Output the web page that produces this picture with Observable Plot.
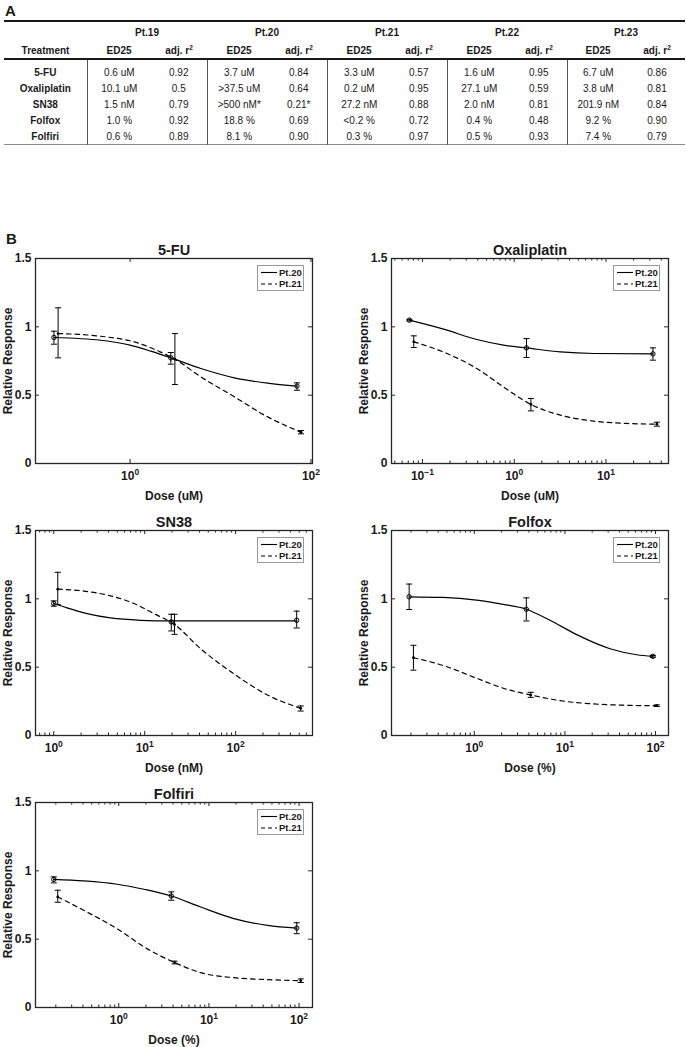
<!DOCTYPE html>
<html><head><meta charset="utf-8">
<script src="https://cdn.jsdelivr.net/npm/d3@7"></script>
<script src="https://cdn.jsdelivr.net/npm/@observablehq/plot@0.6"></script>
<style>
html,body{margin:0;padding:0;background:#fff;}
body{width:686px;height:1047px;position:relative;overflow:hidden;font-family:"Liberation Sans",Arial,sans-serif;color:#1a1a1a;}
.letter{position:absolute;font-weight:bold;font-size:15px;line-height:15px;}
#tbl{position:absolute;left:4px;top:20px;width:681px;border-collapse:collapse;table-layout:fixed;font-size:10px;color:#1a1a1a;border-top:2px solid #1a1a1a;border-bottom:1px solid #8a8a8a;}
#tbl td{padding:0;text-align:center;white-space:nowrap;line-height:11px;}
#tbl tr.h1 td{height:20px;font-weight:bold;}
#tbl tr.h2 td{height:16px;font-weight:bold;border-bottom:2px solid #1a1a1a;}
#tbl tr.sp td{height:4px;}
#tbl tr.row td{height:16px;}
#tbl td.name{font-weight:bold;}
#tbl td.sep{border-left:1px solid #555;}
#tbl sup{font-size:6.5px;line-height:0;vertical-align:4px;}
.panel{position:absolute;}
.legend{position:absolute;width:45px;height:24px;border:1px solid #9a9a9a;background:#fff;}
</style>
</head><body>
<div class="letter" style="left:5px;top:3px;">A</div>
<table id="tbl"></table>
<div class="letter" style="left:6px;top:231px;">B</div>
<div id="plots"></div>
<script>
// ---------- Panel A table data ----------
const patients = ["Pt.19","Pt.20","Pt.21","Pt.22","Pt.23"];
const treatments = ["5-FU","Oxaliplatin","SN38","Folfox","Folfiri"];
const ed25Pt19 = ["0.6 uM","10.1 uM","1.5 nM","1.0 %","0.6 %"];
const r2Pt19   = ["0.92","0.5","0.79","0.92","0.89"];
const ed25Pt20 = ["3.7 uM",">37.5 uM",">500 nM*","18.8 %","8.1 %"];
const r2Pt20   = ["0.84","0.64","0.21*","0.69","0.90"];
const ed25Pt21 = ["3.3 uM","0.2 uM","27.2 nM","<0.2 %","0.3 %"];
const r2Pt21   = ["0.57","0.95","0.88","0.72","0.97"];
const ed25Pt22 = ["1.6 uM","27.1 uM","2.0 nM","0.4 %","0.5 %"];
const r2Pt22   = ["0.95","0.59","0.81","0.48","0.93"];
const ed25Pt23 = ["6.7 uM","3.8 uM","201.9 nM","9.2 %","7.4 %"];
const r2Pt23   = ["0.86","0.81","0.84","0.90","0.79"];

// ---------- Panel B plot data ----------
const seriesNames = ["Pt.20","Pt.21"];
const yTicks = [0, 0.5, 1, 1.5];
const yTickLabels = ["0","0.5","1","1.5"];

// 5-FU
const fuDose20 = [0.144, 2.82, 70.0];
const fuMean20 = [0.922, 0.773, 0.566];
const fuLow20  = [0.873, 0.727, 0.536];
const fuHigh20 = [0.968, 0.812, 0.590];
const fuDose21 = [0.160, 3.13, 77.6];
const fuMean21 = [0.951, 0.763, 0.229];
const fuLow21  = [0.773, 0.578, 0.217];
const fuHigh21 = [1.139, 0.951, 0.241];
const fuFitDose20 = [0.144, 0.474, 1.0, 1.69, 2.82, 6.06, 14.2, 33.2, 70.0];
const fuFitResp20 = [0.922, 0.902, 0.866, 0.822, 0.773, 0.695, 0.627, 0.588, 0.566];
const fuFitDose21 = [0.160, 0.474, 1.11, 2.15, 3.13, 6.06, 14.2, 33.2, 77.6];
const fuFitResp21 = [0.951, 0.931, 0.890, 0.817, 0.763, 0.634, 0.488, 0.341, 0.229];
const fuTicks = [1, 100];
const fuTickLabels = ["10^0","10^2"];

// Oxaliplatin
const oxDose20 = [0.0721, 1.36, 32.5];
const oxMean20 = [1.049, 0.846, 0.802];
const oxLow20  = [1.043, 0.776, 0.756];
const oxHigh20 = [1.055, 0.914, 0.846];
const oxDose21 = [0.0804, 1.52, 35.9];
const oxMean21 = [0.890, 0.432, 0.288];
const oxLow21  = [0.849, 0.385, 0.273];
const oxHigh21 = [0.934, 0.476, 0.302];
const oxFitDose20 = [0.0721, 0.170, 0.391, 0.764, 1.36, 3.18, 7.33, 32.5];
const oxFitResp20 = [1.049, 0.983, 0.907, 0.866, 0.846, 0.817, 0.805, 0.802];
const oxFitDose21 = [0.0804, 0.170, 0.391, 0.764, 1.52, 3.18, 7.33, 16.9, 35.9];
const oxFitResp21 = [0.890, 0.815, 0.695, 0.560, 0.432, 0.354, 0.310, 0.293, 0.288];
const oxTicks = [0.1, 1, 10];
const oxTickLabels = ["10^-1","10^0","10^1"];

// SN38
const snDose20 = [1.0, 19.6, 469];
const snMean20 = [0.966, 0.831, 0.843];
const snLow20  = [0.946, 0.765, 0.787];
const snHigh20 = [0.985, 0.887, 0.910];
const snDose21 = [1.107, 21.3, 519];
const snMean21 = [1.071, 0.812, 0.199];
const snLow21  = [0.959, 0.740, 0.179];
const snHigh21 = [1.194, 0.887, 0.216];
const snFitDose20 = [1.0, 1.40, 2.33, 4.21, 9.0, 19.6, 469];
const snFitResp20 = [0.966, 0.934, 0.892, 0.860, 0.843, 0.838, 0.838];
const snFitDose21 = [1.107, 2.14, 4.21, 7.6, 12.6, 21.3, 41.2, 95.8, 223, 519];
const snFitResp21 = [1.071, 1.057, 1.022, 0.966, 0.892, 0.812, 0.635, 0.451, 0.297, 0.199];
const snTicks = [1, 10, 100];
const snTickLabels = ["10^0","10^1","10^2"];

// Folfox
const foxDose20 = [0.191, 3.75, 93.4];
const foxMean20 = [1.015, 0.924, 0.579];
const foxLow20  = [0.922, 0.838, 0.572];
const foxHigh20 = [1.108, 1.007, 0.586];
const foxDose21 = [0.213, 4.19, 103.3];
const foxMean21 = [0.569, 0.297, 0.218];
const foxLow21  = [0.478, 0.279, 0.212];
const foxHigh21 = [0.660, 0.316, 0.224];
const foxFitDose20 = [0.191, 0.454, 1.06, 2.09, 3.75, 6.86, 13.5, 31.5, 62.1, 93.4];
const foxFitResp20 = [1.015, 1.010, 0.990, 0.959, 0.924, 0.843, 0.738, 0.635, 0.591, 0.579];
const foxFitDose21 = [0.213, 0.454, 1.06, 2.09, 4.19, 8.85, 20.6, 48.2, 103.3];
const foxFitResp21 = [0.569, 0.512, 0.419, 0.346, 0.297, 0.255, 0.231, 0.221, 0.218];
const foxTicks = [1, 10, 100];
const foxTickLabels = ["10^0","10^1","10^2"];

// Folfiri
const firDose20 = [0.190, 3.82, 94.3];
const firMean20 = [0.937, 0.816, 0.581];
const firLow20  = [0.912, 0.785, 0.540];
const firHigh20 = [0.956, 0.846, 0.620];
const firDose21 = [0.210, 4.16, 104.4];
const firMean21 = [0.809, 0.329, 0.196];
const firLow21  = [0.770, 0.319, 0.183];
const firHigh21 = [0.858, 0.339, 0.209];
const firFitDose20 = [0.190, 0.408, 0.96, 1.90, 3.82, 8.09, 18.9, 44.6, 94.3];
const firFitResp20 = [0.937, 0.926, 0.902, 0.865, 0.816, 0.735, 0.650, 0.601, 0.581];
const firFitDose21 = [0.210, 0.408, 0.96, 2.07, 4.16, 8.09, 18.9, 44.6, 104.4];
const firFitResp21 = [0.809, 0.711, 0.576, 0.429, 0.329, 0.255, 0.218, 0.204, 0.196];
const firTicks = [1, 10, 100];
const firTickLabels = ["10^0","10^1","10^2"];

// ---------- build table ----------
(function buildTable(){
  const tbl = document.getElementById("tbl");
  const ed = [ed25Pt19, ed25Pt20, ed25Pt21, ed25Pt22, ed25Pt23];
  const r2 = [r2Pt19, r2Pt20, r2Pt21, r2Pt22, r2Pt23];
  const cg = document.createElement("colgroup");
  const widths = [83, 64,56, 64,56, 64,56, 64,56, 62,56];
  widths.forEach(w => { const c = document.createElement("col"); c.style.width = w + "px"; cg.appendChild(c); });
  tbl.appendChild(cg);
  let html = '<tr class="h1"><td></td>' + patients.map(p => `<td colspan="2">${p}</td>`).join("") + '</tr>';
  html += '<tr class="h2"><td>Treatment</td>' + patients.map(() => '<td>ED25</td><td>adj. r<sup>2</sup></td>').join("") + '</tr>';
  html += '<tr class="sp"><td></td>' + patients.map(() => '<td class="sep"></td><td></td>').join("") + '</tr>';
  treatments.forEach((t, i) => {
    html += `<tr class="row"><td class="name">${t}</td>` + patients.map((p, j) => `<td class="sep">${ed[j][i]}</td><td>${r2[j][i]}</td>`).join("") + '</tr>';
  });
  tbl.innerHTML += html;
})();

// ---------- plots ----------
const zip = (dose, mean, lo, hi) => dose.map((d, i) => ({dose: d, mean: mean[i], lo: lo[i], hi: hi[i]}));
const zipFit = (dose, resp) => dose.map((d, i) => ({dose: d, resp: resp[i]}));
const capSymbol = {draw(ctx, size){ const w = Math.sqrt(size / Math.PI); ctx.moveTo(-w, 0); ctx.lineTo(w, 0); }};

const panels = [
  {title: "5-FU", xlabel: "Dose (uM)", left: 0, top: 238, mL: 35, mR: 31, domain: [0.09, 104], ticks: fuTicks, labels: fuTickLabels, minor: false,
   p20: zip(fuDose20, fuMean20, fuLow20, fuHigh20), p21: zip(fuDose21, fuMean21, fuLow21, fuHigh21),
   f20: zipFit(fuFitDose20, fuFitResp20), f21: zipFit(fuFitDose21, fuFitResp21)},
  {title: "Oxaliplatin", xlabel: "Dose (uM)", left: 343, top: 238, mL: 48, mR: 18, domain: [0.046, 48], ticks: oxTicks, labels: oxTickLabels, minor: true,
   p20: zip(oxDose20, oxMean20, oxLow20, oxHigh20), p21: zip(oxDose21, oxMean21, oxLow21, oxHigh21),
   f20: zipFit(oxFitDose20, oxFitResp20), f21: zipFit(oxFitDose21, oxFitResp21)},
  {title: "SN38", xlabel: "Dose (nM)", left: 0, top: 510, mL: 35, mR: 31, domain: [0.63, 700], ticks: snTicks, labels: snTickLabels, minor: true,
   p20: zip(snDose20, snMean20, snLow20, snHigh20), p21: zip(snDose21, snMean21, snLow21, snHigh21),
   f20: zipFit(snFitDose20, snFitResp20), f21: zipFit(snFitDose21, snFitResp21)},
  {title: "Folfox", xlabel: "Dose (%)", left: 343, top: 510, mL: 48, mR: 18, domain: [0.122, 139], ticks: foxTicks, labels: foxTickLabels, minor: true,
   p20: zip(foxDose20, foxMean20, foxLow20, foxHigh20), p21: zip(foxDose21, foxMean21, foxLow21, foxHigh21),
   f20: zipFit(foxFitDose20, foxFitResp20), f21: zipFit(foxFitDose21, foxFitResp21)},
  {title: "Folfiri", xlabel: "Dose (%)", left: 0, top: 782, mL: 35, mR: 31, domain: [0.119, 141], ticks: firTicks, labels: firTickLabels, minor: true,
   p20: zip(firDose20, firMean20, firLow20, firHigh20), p21: zip(firDose21, firMean21, firLow21, firHigh21),
   f20: zipFit(firFitDose20, firFitResp20), f21: zipFit(firFitDose21, firFitResp21)}
];

const W = 343, MT = 20, FH = 205, MB = 44, H = MT + FH + MB;
const ink = "#262626";
const holder = document.getElementById("plots");
const FONT = "'Liberation Sans', Arial, sans-serif";

panels.forEach(cfg => {
  const FW = W - cfg.mL - cfg.mR;
  const minors = cfg.minor ? d3.scaleLog().domain(cfg.domain).ticks().filter(t => !cfg.ticks.some(m => Math.abs(m - t) < 1e-9)) : [];
  const svg = Plot.plot({
    width: W, height: H,
    marginLeft: cfg.mL, marginRight: cfg.mR, marginTop: MT, marginBottom: MB,
    style: {fontFamily: FONT, fontSize: "12px", fontWeight: "bold", color: "#1a1a1a", background: "transparent", overflow: "visible"},
    x: {type: "log", domain: cfg.domain, ticks: cfg.ticks, tickFormat: d => cfg.labels[cfg.ticks.findIndex(m => Math.abs(m - d) < 1e-9)], tickSize: 0, tickPadding: 8, label: null},
    y: {domain: [0, 1.5], ticks: yTicks, tickFormat: d => yTickLabels[yTicks.indexOf(d)], tickSize: 0, tickPadding: 4, label: null},
    marks: [
      // inward ticks
      Plot.tickX(cfg.ticks, {x: d => d, insetTop: FH - 4, stroke: ink}),
      Plot.tickX(cfg.ticks, {x: d => d, insetBottom: FH - 4, stroke: ink}),
      Plot.tickX(minors, {x: d => d, insetTop: FH - 2.5, stroke: ink}),
      Plot.tickX(minors, {x: d => d, insetBottom: FH - 2.5, stroke: ink}),
      Plot.tickY(yTicks, {y: d => d, insetRight: FW - 4, stroke: ink}),
      Plot.tickY(yTicks, {y: d => d, insetLeft: FW - 4, stroke: ink}),
      // fitted curves
      Plot.line(cfg.f20, {x: "dose", y: "resp", curve: "monotone-x", stroke: "#000", strokeWidth: 1.2}),
      Plot.line(cfg.f21, {x: "dose", y: "resp", curve: "monotone-x", stroke: "#000", strokeWidth: 1.2, strokeDasharray: "4.5,4"}),
      // error bars
      Plot.ruleX(cfg.p20, {x: "dose", y1: "lo", y2: "hi", stroke: "#000", strokeWidth: 1}),
      Plot.ruleX(cfg.p21, {x: "dose", y1: "lo", y2: "hi", stroke: "#000", strokeWidth: 1}),
      Plot.dot(cfg.p20, {x: "dose", y: "lo", symbol: capSymbol, r: 3, stroke: "#000", fill: "none", strokeWidth: 1}),
      Plot.dot(cfg.p20, {x: "dose", y: "hi", symbol: capSymbol, r: 3, stroke: "#000", fill: "none", strokeWidth: 1}),
      Plot.dot(cfg.p21, {x: "dose", y: "lo", symbol: capSymbol, r: 3, stroke: "#000", fill: "none", strokeWidth: 1}),
      Plot.dot(cfg.p21, {x: "dose", y: "hi", symbol: capSymbol, r: 3, stroke: "#000", fill: "none", strokeWidth: 1}),
      // points
      Plot.dot(cfg.p20, {x: "dose", y: "mean", r: 2.2, stroke: "#000", fill: "none", strokeWidth: 1}),
      Plot.dot(cfg.p21, {x: "dose", y: "mean", r: 1.4, fill: "#000", stroke: "none"}),
      Plot.frame({stroke: ink, strokeWidth: 1.3}),
      // texts
      Plot.text([cfg.title], {text: d => d, frameAnchor: "top", textAnchor: "middle", lineAnchor: "bottom", dy: -4, fontSize: 14.5, fontWeight: "bold", fill: "#1a1a1a"}),
      Plot.text(["Relative Response"], {text: d => d, frameAnchor: "left", textAnchor: "middle", lineAnchor: "middle", dx: -27, rotate: -90, fontSize: 12, fontWeight: "bold", fill: "#1a1a1a"}),
      Plot.text([cfg.xlabel], {text: d => d, frameAnchor: "bottom", textAnchor: "middle", lineAnchor: "middle", dy: 33, fontSize: 12, fontWeight: "bold", fill: "#1a1a1a"})
    ]
  });
  const ns = "http://www.w3.org/2000/svg";
  svg.querySelectorAll("text").forEach(t => {
    // axis tick labels: consistent size
    if (!t.closest('[aria-label="text"]')) { t.style.fontSize = "12px"; t.style.fontWeight = "bold"; }
    // superscript exponents on log tick labels
    const m = /^10\^(.+)$/.exec(t.textContent);
    if (!m) return;
    while (t.firstChild) t.removeChild(t.firstChild);
    const a = document.createElementNS(ns, "tspan"); a.textContent = "10";
    const b = document.createElementNS(ns, "tspan"); b.textContent = m[1].replace("-", "\u2212");
    b.setAttribute("dy", "-5"); b.setAttribute("font-size", "8.5px");
    t.appendChild(a); t.appendChild(b);
  });
  const wrap = document.createElement("div");
  wrap.className = "panel";
  wrap.style.left = cfg.left + "px"; wrap.style.top = cfg.top + "px";
  wrap.appendChild(svg);
  holder.appendChild(wrap);

  // legend box (top-right inside the axes)
  const frameRight = cfg.left + W - cfg.mR, frameTop = cfg.top + MT;
  const lg = document.createElement("div");
  lg.className = "legend";
  lg.style.left = (frameRight - 8 - 47) + "px";
  lg.style.top = (frameTop + 7) + "px";
  const dashes = ["none", "4,3"];
  lg.innerHTML = `<svg width="45" height="24" style="display:block">` + seriesNames.map((s, i) => {
    const y = 6.5 + i * 11.5;
    return `<line x1="3" x2="19" y1="${y}" y2="${y}" stroke="#000" stroke-width="1.1" stroke-dasharray="${dashes[i]}"/>` +
      `<text x="21" y="${y}" dy="0.35em" font-size="9.5" font-weight="bold" font-family="${FONT}" fill="#1a1a1a">${s}</text>`;
  }).join("") + `</svg>`;
  holder.appendChild(lg);
});
</script>
</body></html>
